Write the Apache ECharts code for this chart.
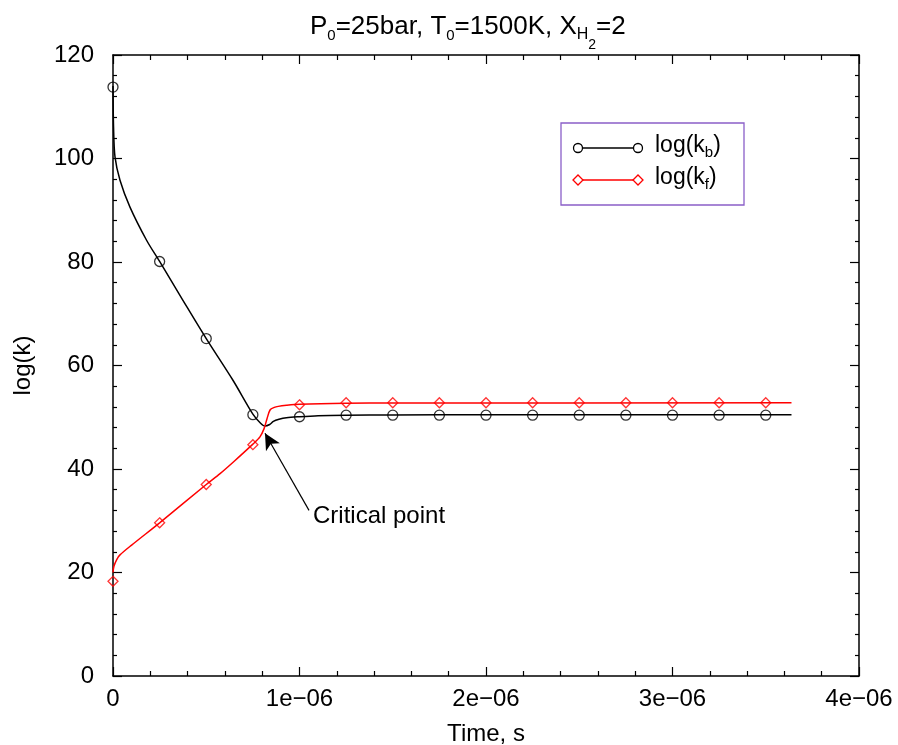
<!DOCTYPE html>
<html>
<head>
<meta charset="utf-8">
<script src="https://cdn.jsdelivr.net/npm/echarts@6/dist/echarts.min.js"></script>
<style>
html,body{margin:0;padding:0;background:#fff;}
#chart{width:898px;height:745px;}
</style>
</head>
<body>
<div id="chart"></div>
<script>
// time in microseconds (scaled to seconds when plotted)
const kbLineT = [0, 0.003, 0.0107, 0.0375, 0.091, 0.18, 0.25, 0.375, 0.5, 0.644, 0.75, 0.79, 0.815, 0.84, 0.86, 0.89, 0.93, 1.0, 1.1, 1.25, 1.5, 2.0, 3.638];
const kbLineV = [114, 106, 100.3, 95.8, 90.6, 84.2, 80.1, 72.6, 65.2, 57.1, 50.6, 48.9, 48.3, 48.6, 49.2, 49.6, 49.9, 50.1, 50.3, 50.4, 50.45, 50.5, 50.5];
const kfLineT = [0, 0.005, 0.02, 0.0375, 0.1, 0.25, 0.5, 0.574, 0.65, 0.75, 0.788, 0.81, 0.825, 0.842, 0.865, 0.886, 0.93, 1.0, 1.25, 1.5, 3.638];
const kfLineV = [20, 21.2, 22.5, 23.4, 25.3, 29.6, 37.0, 39.1, 41.5, 44.8, 46.2, 47.8, 49.6, 51.4, 51.9, 52.1, 52.3, 52.5, 52.7, 52.75, 52.8];
const markT = [0, 0.25, 0.5, 0.75, 1.0, 1.25, 1.5, 1.75, 2.0, 2.25, 2.5, 2.75, 3.0, 3.25, 3.5];
const kbMarks = [113.8, 80.1, 65.2, 50.5, 50.1, 50.4, 50.4, 50.4, 50.4, 50.4, 50.4, 50.4, 50.4, 50.4, 50.4];
const kfMarks = [18.3, 29.6, 37.0, 44.7, 52.4, 52.8, 52.8, 52.8, 52.8, 52.8, 52.8, 52.8, 52.8, 52.8, 52.8];
const xTicks = [0, 1, 2, 3, 4];          // x tick labels (×1e-6)
const yTicks = [0, 20, 40, 60, 80, 100, 120];
const arrowFrom = [1.051, 32.0];
const arrowTo = [0.815, 46.9];

const US = 1e-6;
const zip = (t, v) => t.map((x, i) => [x * US, v[i]]);
const FONT = '"Liberation Sans", Arial, sans-serif';

const chart = echarts.init(document.getElementById('chart'), null, {renderer: 'canvas'});

const xFmt = v => {
  const n = Math.round(v / US);
  return n === 0 ? '0' : n + 'e\u221206';
};

const baseX = {
  type: 'value', min: xTicks[0] * US, max: xTicks[xTicks.length - 1] * US, interval: US,
  axisLine: {show: true, onZero: false, lineStyle: {color: '#000', width: 1.5}},
  axisTick: {show: true, inside: true, length: 9, lineStyle: {color: '#000', width: 1.2}},
  minorTick: {show: true, splitNumber: 5, length: 5, lineStyle: {color: '#000', width: 1.2}},
  splitLine: {show: false}
};
const baseY = {
  type: 'value', min: yTicks[0], max: yTicks[yTicks.length - 1], interval: 20,
  axisLine: {show: true, onZero: false, lineStyle: {color: '#000', width: 1.5}},
  axisTick: {show: true, inside: true, length: 9, lineStyle: {color: '#000', width: 1.2}},
  minorTick: {show: true, splitNumber: 5, length: 4, lineStyle: {color: '#000', width: 1.2}},
  splitLine: {show: false}
};

const option = {
  backgroundColor: '#fff',
  animation: false,
  title: {
    text: '{a|P}{s|0}{a|=25bar, T}{s|0}{a|=1500K, X}{h|H}{t|2}{a|=2}',
    left: 305, top: -3,
    textStyle: {
      fontWeight: 'normal',
      rich: {
        a: {fontFamily: FONT, fontSize: 26, fontWeight: 'normal', color: '#000', lineHeight: 32},
        s: {fontFamily: FONT, fontSize: 15, fontWeight: 'normal', color: '#000', padding: [17, 0, 0, 0]},
        h: {fontFamily: FONT, fontSize: 16, fontWeight: 'normal', color: '#000', padding: [15, 0, 0, 0]},
        t: {fontFamily: FONT, fontSize: 14, fontWeight: 'normal', color: '#000', padding: [36, 0, 0, 0]}
      }
    }
  },
  grid: {left: 113, right: 39, top: 55, bottom: 69, outerBoundsMode: 'none', containLabel: false},
  xAxis: [
    Object.assign({}, baseX, {
      position: 'bottom',
      name: 'Time, s', nameLocation: 'middle', nameGap: 46,
      nameTextStyle: {fontFamily: FONT, fontSize: 24, color: '#000'},
      axisLabel: {show: true, margin: 11, fontFamily: FONT, fontSize: 24, color: '#000', formatter: xFmt}
    }),
    Object.assign({}, baseX, {position: 'top', axisLabel: {show: false}})
  ],
  yAxis: [
    Object.assign({}, baseY, {
      position: 'left',
      name: 'log(k)', nameLocation: 'middle', nameGap: 78, nameRotate: 90,
      nameTextStyle: {fontFamily: FONT, fontSize: 24, color: '#000'},
      axisLabel: {show: true, margin: 19, fontFamily: FONT, fontSize: 24, color: '#000'}
    }),
    Object.assign({}, baseY, {position: 'right', axisLabel: {show: false}})
  ],
  series: [
    {
      name: 'log(k_b) line', type: 'line', data: zip(kbLineT, kbLineV),
      showSymbol: false, symbol: 'none', smooth: 0.3,
      lineStyle: {color: '#000', width: 1.5}, z: 3
    },
    {
      name: 'log(k_f) line', type: 'line', data: zip(kfLineT, kfLineV),
      showSymbol: false, symbol: 'none', smooth: 0.3,
      lineStyle: {color: '#ff0000', width: 1.5}, z: 4,
      markLine: {
        silent: true, symbol: ['none', 'arrow'], symbolSize: [12, 16],
        lineStyle: {color: '#000', width: 1.2, type: 'solid'},
        label: {show: false},
        data: [[{coord: [arrowFrom[0] * US, arrowFrom[1]]}, {coord: [arrowTo[0] * US, arrowTo[1]]}]]
      }
    },
    {
      name: 'kb marks', type: 'scatter', data: zip(markT, kbMarks),
      symbol: 'circle', symbolSize: 10,
      itemStyle: {color: 'rgba(0,0,0,0)', borderColor: '#000', borderWidth: 1.3}, z: 5
    },
    {
      name: 'kf marks', type: 'scatter', data: zip(markT, kfMarks),
      symbol: 'diamond', symbolSize: [10, 10],
      itemStyle: {color: 'rgba(0,0,0,0)', borderColor: '#ff0000', borderWidth: 1.3}, z: 6
    }
  ],
  graphic: [
    {type: 'text', left: 313, top: 504, style: {text: 'Critical point', fontFamily: FONT, fontSize: 24, fill: '#000'}},
    {type: 'rect', shape: {x: 561, y: 123, width: 183, height: 82}, style: {fill: '#fff', stroke: '#8a5fc8', lineWidth: 1.3}, z: 10},
    {type: 'line', shape: {x1: 578, y1: 148, x2: 638, y2: 148}, style: {stroke: '#000', lineWidth: 1.3}, z: 11},
    {type: 'circle', shape: {cx: 578, cy: 148, r: 4.5}, style: {fill: '#fff', stroke: '#000', lineWidth: 1.3}, z: 12},
    {type: 'circle', shape: {cx: 638, cy: 148, r: 4.5}, style: {fill: '#fff', stroke: '#000', lineWidth: 1.3}, z: 12},
    {type: 'line', shape: {x1: 578, y1: 180, x2: 638, y2: 180}, style: {stroke: '#ff0000', lineWidth: 1.3}, z: 11},
    {type: 'polygon', shape: {points: [[573, 180], [578, 175], [583, 180], [578, 185]]}, style: {fill: '#fff', stroke: '#ff0000', lineWidth: 1.3}, z: 12},
    {type: 'polygon', shape: {points: [[633, 180], [638, 175], [643, 180], [638, 185]]}, style: {fill: '#fff', stroke: '#ff0000', lineWidth: 1.3}, z: 12},
    {type: 'text', left: 655, top: 134, z: 12, style: {
      text: '{a|log(k}{s|b}{a|)}',
      rich: {a: {fontFamily: FONT, fontSize: 23, fill: '#000', lineHeight: 28}, s: {fontFamily: FONT, fontSize: 15, fill: '#000', padding: [14, 0, 0, 0]}}
    }},
    {type: 'text', left: 655, top: 166, z: 12, style: {
      text: '{a|log(k}{s|f}{a|)}',
      rich: {a: {fontFamily: FONT, fontSize: 23, fill: '#000', lineHeight: 28}, s: {fontFamily: FONT, fontSize: 15, fill: '#000', padding: [14, 0, 0, 0]}}
    }}
  ]
};
chart.setOption(option);
</script>
</body>
</html>
